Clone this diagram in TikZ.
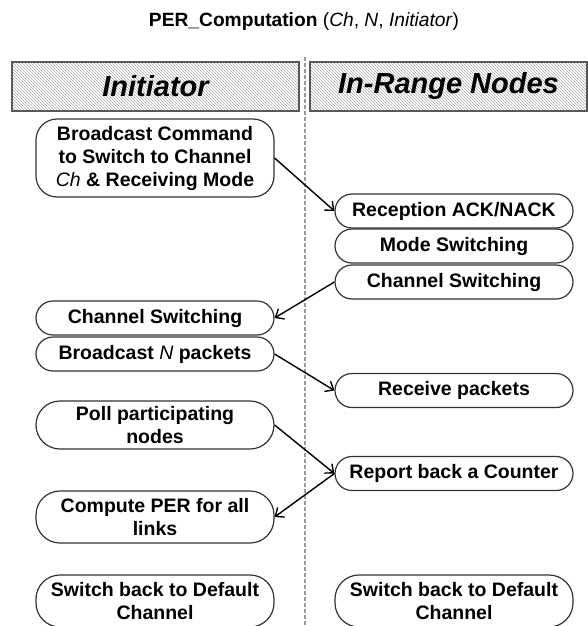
\documentclass[tikz,border=0pt]{standalone}
\usepackage{fontspec}
\setmainfont{Liberation Sans}
\usetikzlibrary{arrows.meta, patterns}
\tikzset{
  every picture/.style={line width=1.2pt},
  box/.style={draw=black!80, rounded corners=17pt, align=center, inner sep=0pt, minimum width=238pt, minimum height=#1, font=\fontsize{19.5}{23}\selectfont\bfseries},
  box/.default=34pt,
  tallbox/.style={box=#1, rounded corners=24pt},
  lane/.style={draw=black!65, line width=1.5pt, pattern=north west lines, pattern color=black!32, minimum width=#1, minimum height=49pt, inner sep=0pt, font=\fontsize{29}{34}\selectfont\bfseries\itshape},
  arrow/.style={-{Straight Barb[length=7pt,width=12pt]}, line width=1.4pt},
  title/.style={font=\fontsize{19.2}{22}\selectfont},
  divider/.style={draw=black!40, dash pattern=on 4pt off 2pt, line width=1.2pt},
}
\begin{document}
\begin{tikzpicture}[x=1pt, y=-1pt]
  \useasboundingbox (0,0) rectangle (588,626);
  \node[title] (title) at (304,22) {\textbf{PER\_Computation} (\textit{Ch}, \textit{N}, \textit{Initiator})};
  % swim lanes
  \node[lane=287pt] (initiator) at (155.5,86.5) {Initiator};
  \node[lane=277pt] (inrange) at (448.5,86.5) {In-Range Nodes};
  \coordinate (divtop) at (305,57);
  \coordinate (divbot) at (305,626);
  \draw[divider] (divtop) -- (divbot);
  % initiator side
  \node[box=78pt, rounded corners=21pt] (cmd) at (155,158) {Broadcast Command\\to Switch to Channel\\{\mdseries\itshape Ch} \& Receiving Mode};
  \node[box] (chswL) at (155,318) {Channel Switching};
  \node[box] (bcastN) at (155,354) {Broadcast {\mdseries\itshape N} packets};
  \node[tallbox=48pt] (poll) at (155,425) {Poll participating\\nodes};
  \node[tallbox=52pt] (comp) at (155,517) {Compute PER for all\\links};
  \node[tallbox=52pt] (backL) at (155,601) {Switch back to Default\\Channel};
  % in-range side
  \node[box] (rx) at (454,211) {Reception ACK/NACK};
  \node[box] (mode) at (454,246) {Mode Switching};
  \node[box] (chswR) at (454,282) {Channel Switching};
  \node[box] (recv) at (454,390.5) {Receive packets};
  \node[box] (report) at (454,473.5) {Report back a Counter};
  \node[tallbox=52pt] (backR) at (454,601) {Switch back to Default\\Channel};
  % messages
  \draw[arrow] (cmd.east) -- (rx.west);
  \draw[arrow] (chswR.west) -- (chswL.east);
  \draw[arrow] (bcastN.east) -- (recv.west);
  \draw[arrow] (poll.east) -- (report.west);
  \draw[arrow] (report.west) -- (comp.east);
\end{tikzpicture}
\end{document}
